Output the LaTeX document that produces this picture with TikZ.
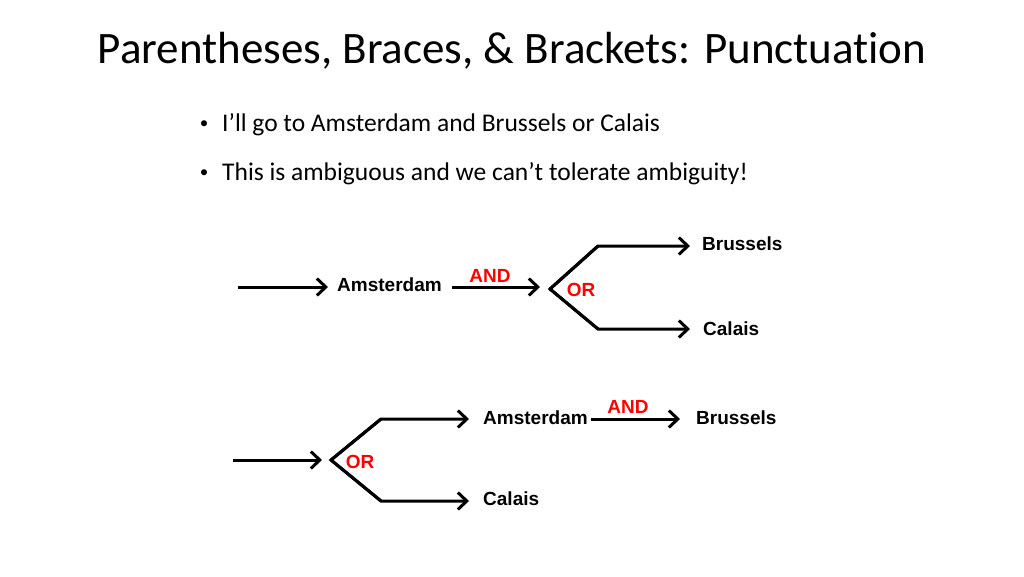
\documentclass[tikz,border=0pt]{standalone}
\usepackage{fontspec}
\setmainfont{Carlito}[Ligatures=CommonOff]
\newfontfamily\arialb{Liberation Sans}
\usetikzlibrary{arrows.meta}
\begin{document}
\begin{tikzpicture}[x=1pt,y=-1pt,
  conn/.style={line width=3pt,line join=miter,-{Straight Barb[length=9pt,width=17pt,line width=3pt]}},
  plain/.style={line width=3pt,line join=miter},
  lbl/.style={anchor=base west,inner sep=0pt,font=\arialb\bfseries\fontsize{19}{21}\selectfont},
  redlbl/.style={anchor=base,inner sep=0pt,text=red,font=\arialb\bfseries\fontsize{19}{21}\selectfont},
  bul/.style={anchor=base west,inner sep=0pt,font=\fontsize{25.5}{28}\selectfont},
  dot/.style={anchor=base,inner sep=0pt,font=\fontsize{17}{20}\selectfont}]
\useasboundingbox (0,0) rectangle (1024,576);
\fill[white] (0,0) rectangle (1024,576);
% title
\node[anchor=base,inner sep=0pt,font=\fontsize{45}{50}\selectfont] (title) at (512,63) {Parentheses, Braces, \& Brackets: Punctuation};
% bullets
\node[dot] (b1) at (204,128) {•};
\node[bul] (t1) at (222,131) {I’ll go to Amsterdam and Brussels or Calais};
\node[dot] (b2) at (204,177) {•};
\node[bul] (t2) at (222,180) {This is ambiguous and we can’t tolerate ambiguity!};
% diagram 1
\coordinate (s1) at (238,287);
\node[lbl] (ams1) at (337,291) {Amsterdam};
\coordinate (a1s) at (452,287);
\coordinate (v1) at (550,289);
\coordinate (u1) at (598,246);
\coordinate (l1) at (598,329);
\node[lbl] (bru1) at (702,250) {Brussels};
\node[lbl] (cal1) at (703,335) {Calais};
\node[redlbl] (and1) at (490,282) {AND};
\node[redlbl] (or1) at (581,296) {OR};
\draw[conn] (s1) -- ([xshift=-9pt]ams1.west |- s1);
\draw[conn] (a1s) -- ([xshift=-10pt]v1 |- a1s);
\draw[plain] (u1) -- (v1) -- (l1);
\draw[conn] (v1) -- (u1) -- ([xshift=-12pt]bru1.west |- u1);
\draw[conn] (v1) -- (l1) -- ([xshift=-13pt]cal1.west |- l1);
% diagram 2
\coordinate (s2) at (233,460);
\coordinate (v2) at (331,460);
\coordinate (u2) at (381,419);
\coordinate (l2) at (381,501);
\node[lbl] (ams2) at (483,424) {Amsterdam};
\node[lbl] (bru2) at (696,424) {Brussels};
\node[lbl] (cal2) at (483,505) {Calais};
\node[redlbl] (and2) at (628,413) {AND};
\node[redlbl] (or2) at (360,468) {OR};
\draw[conn] (s2) -- ([xshift=-9pt]v2);
\draw[plain] (u2) -- (v2) -- (l2);
\draw[conn] (v2) -- (u2) -- ([xshift=-14pt]ams2.west |- u2);
\draw[conn] (v2) -- (l2) -- ([xshift=-14pt]cal2.west |- l2);
\draw[conn] ([xshift=3pt]ams2.east |- u2) -- ([xshift=-16pt]bru2.west |- u2);
\end{tikzpicture}
\end{document}
